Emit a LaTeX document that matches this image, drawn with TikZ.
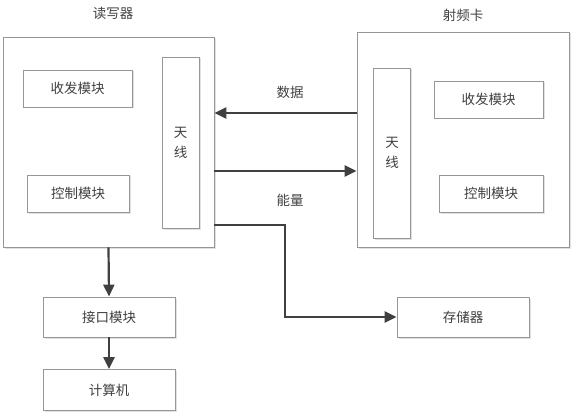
\documentclass[tikz,border=0pt]{standalone}
\usepackage{fontspec}
\setmainfont{Noto Sans CJK SC}
\definecolor{mygray}{RGB}{150,150,150}
\definecolor{myshade}{RGB}{225,225,225}
\definecolor{mydark}{RGB}{64,64,64}
\usetikzlibrary{arrows.meta,positioning,shadows}

\begin{document}
\begin{tikzpicture}[x=1pt,y=-1pt,
    every node/.style={text=mydark,font=\fontsize{13.5}{20}\selectfont},
    box/.style={draw=mygray,line width=0.8pt,fill=white,inner sep=0pt,
      drop shadow={shadow xshift=1.5pt,shadow yshift=-1.5pt,fill=myshade,opacity=1}},
    unit/.style={box,minimum width=#1,minimum height=37pt},
    ant/.style={box,minimum width=37pt,align=center},
    flow/.style={draw=mydark,line width=2.2pt,-{Triangle[length=12pt,width=11pt]}}
    ]
    \useasboundingbox (0,0) rectangle (576,417);

    % the two devices
    \node (reader) [box,minimum width=211pt,minimum height=210pt] at (108.5,142) {};
    \node (card) [box,minimum width=212pt,minimum height=215pt] at (463,139.5) {};
    \node (rtitle) at (113,13) {读写器};
    \node (ctitle) at (463,15) {射频卡};

    % reader parts
    \node (rtx) [unit=109pt] at (77.5,88.5) {收发模块};
    \node (rctl) [unit=102pt] at (78,193.5) {控制模块};
    \node (rant) [ant,minimum height=171pt] at (180.5,142.5) {天\\线};

    % card parts
    \node (cant) [ant,minimum height=170pt] at (392,153) {天\\线};
    \node (ctx) [unit=109pt] at (488.5,99.5) {收发模块};
    \node (cctl) [unit=104pt] at (491,193.5) {控制模块};

    % the others
    \node (iface) [unit=132pt,minimum height=40pt] at (109,317) {接口模块};
    \node (pc) [unit=132pt,minimum height=41pt] at (109,390) {计算机};
    \node (mem) [unit=132pt,minimum height=40pt] at (463,317) {存储器};

    % the labels
    \node (data) at (290,92) {数据};
    \node (power) at (290,200) {能量};

    % the edges
    \coordinate (bend) at (285,225);
    \draw [flow] (card.west |- 0,113) -- (reader.east |- 0,113);
    \draw [flow] (reader.east |- 0,171) -- (card.west |- 0,171);
    \draw [flow] (reader.south) -- (iface.north);
    \draw [flow] (iface) -- (pc);
    \draw [flow] (reader.east |- bend) -- (bend) |- (mem.west);
\end{tikzpicture}
\end{document}
